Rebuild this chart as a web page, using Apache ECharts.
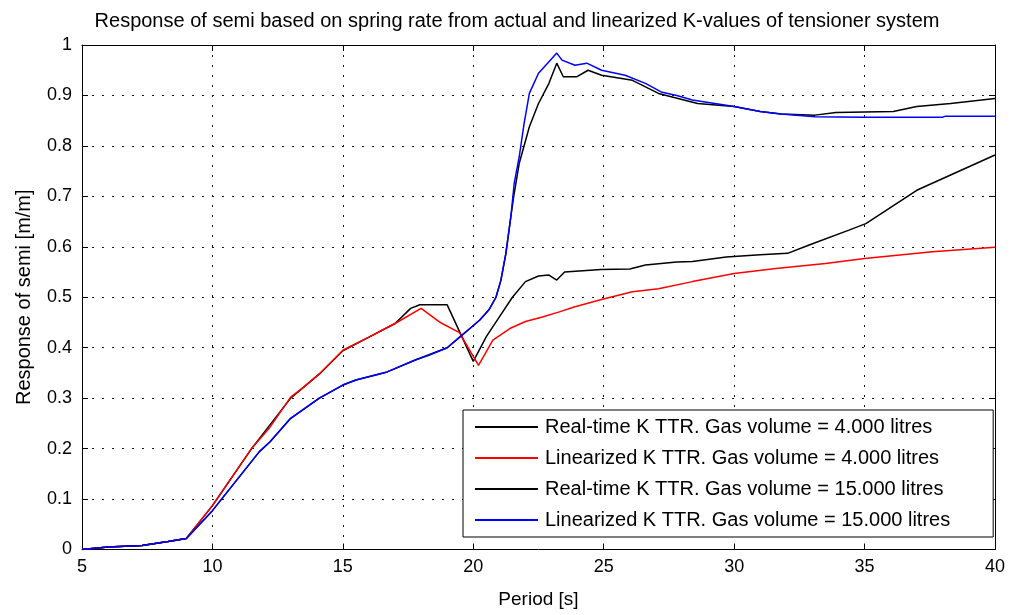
<!DOCTYPE html>
<html>
<head>
<meta charset="utf-8">
<script src="https://cdn.jsdelivr.net/npm/echarts@6/dist/echarts.min.js"></script>
<style>
html,body{margin:0;padding:0;background:#fff;}
#chart{width:1010px;height:615px;}
</style>
</head>
<body>
<div id="chart"></div>
<script>
const titleText = 'Response of semi based on spring rate from actual and linearized K-values of tensioner system';
const xAxisName = 'Period [s]';
const yAxisName = 'Response of semi [m/m]';
const seriesNames = [
  'Real-time K TTR. Gas volume = 4.000 litres',
  'Linearized K TTR. Gas volume = 4.000 litres',
  'Real-time K TTR. Gas volume = 15.000 litres',
  'Linearized K TTR. Gas volume = 15.000 litres'
];

// Real-time K, 4.000 litres
const rt4X = [5, 6, 7.3, 8.3, 9, 10, 11.5, 13, 14.1, 15, 16, 17, 17.6, 17.95, 19, 20, 20.5, 21, 21.5, 22, 22.5, 22.9, 23.2, 23.5, 24.9, 26, 26.6, 27.8, 28.4, 29.7, 31, 32.05, 32.9, 34.4, 35.05, 37, 40];
const rt4Y = [0, 0.005, 0.008, 0.016, 0.022, 0.087, 0.2, 0.3, 0.348, 0.394, 0.421, 0.448, 0.478, 0.485, 0.485, 0.373, 0.422, 0.461, 0.5, 0.531, 0.542, 0.544, 0.534, 0.55, 0.555, 0.556, 0.564, 0.57, 0.571, 0.58, 0.584, 0.587, 0.604, 0.633, 0.646, 0.712, 0.782];

// Linearized K, 4.000 litres
const lin4X = [5, 6, 7.3, 8.3, 9, 10, 11.5, 12.2, 13, 13.5, 14.1, 15, 16, 17, 18, 18.7, 19.47, 20.2, 20.75, 21.4, 22, 22.65, 23.3, 23.9, 24.95, 26.1, 27.1, 28.4, 30, 31.6, 33.5, 35, 37.6, 40];
const lin4Y = [0, 0.005, 0.008, 0.016, 0.022, 0.087, 0.2, 0.242, 0.302, 0.322, 0.348, 0.395, 0.421, 0.448, 0.478, 0.451, 0.43, 0.365, 0.415, 0.438, 0.452, 0.461, 0.471, 0.481, 0.496, 0.511, 0.517, 0.531, 0.547, 0.557, 0.567, 0.577, 0.59, 0.599];

// Real-time K, 15.000 litres
const rt15X = [5, 6, 7.3, 8.3, 9, 10, 11.8, 12.2, 13, 14.1, 15, 15.5, 16.7, 17.8, 19, 19.5, 19.87, 20.25, 20.6, 20.87, 21.06, 21.25, 21.44, 21.55, 21.76, 22.15, 22.5, 22.9, 23.2, 23.45, 23.96, 24.4, 24.92, 26.1, 27.1, 28.6, 30, 31, 31.8, 33.1, 33.9, 36.1, 37, 38.3, 40];
const rt15Y = [0, 0.005, 0.008, 0.016, 0.022, 0.077, 0.194, 0.213, 0.26, 0.3, 0.326, 0.336, 0.352, 0.376, 0.4, 0.422, 0.438, 0.455, 0.475, 0.5, 0.534, 0.587, 0.66, 0.7, 0.765, 0.838, 0.884, 0.924, 0.964, 0.937, 0.937, 0.95, 0.94, 0.93, 0.904, 0.884, 0.878, 0.868, 0.863, 0.861, 0.866, 0.868, 0.878, 0.884, 0.894];

// Linearized K, 15.000 litres
const lin15X = [5, 6, 7.3, 8.3, 9, 10, 11.8, 12.2, 13, 14.1, 15, 15.5, 16.7, 17.8, 18.3, 19, 19.5, 19.87, 20.25, 20.6, 20.87, 21.06, 21.25, 21.44, 21.57, 21.76, 21.95, 22.15, 22.5, 22.9, 23.2, 23.4, 23.9, 24.35, 24.92, 25.82, 26.6, 27.2, 27.8, 28.4, 30, 31, 31.8, 33.1, 35, 38, 38.1, 40];
const lin15Y = [0, 0.005, 0.008, 0.016, 0.022, 0.077, 0.194, 0.213, 0.26, 0.3, 0.326, 0.336, 0.352, 0.376, 0.385, 0.4, 0.422, 0.438, 0.455, 0.475, 0.5, 0.534, 0.587, 0.66, 0.726, 0.778, 0.845, 0.904, 0.944, 0.967, 0.984, 0.97, 0.96, 0.964, 0.95, 0.94, 0.924, 0.907, 0.9, 0.891, 0.878, 0.868, 0.863, 0.858, 0.857, 0.857, 0.859, 0.859];

const xTicks = [5, 10, 15, 20, 25, 30, 35, 40];
const yTicks = [0, 0.1, 0.2, 0.3, 0.4, 0.5, 0.6, 0.7, 0.8, 0.9, 1];

const colors = ['#000000', '#ff0000', '#000000', '#0000ff'];
const FONT = 'Liberation Sans';

function pairs(xs, ys) { return xs.map((x, i) => [x, ys[i]]); }
const allData = [pairs(rt4X, rt4Y), pairs(lin4X, lin4Y), pairs(rt15X, rt15Y), pairs(lin15X, lin15Y)];

const chart = echarts.init(document.getElementById('chart'), null, {renderer: 'canvas'});

const dotted = {show: true, lineStyle: {color: '#111', width: 1, type: [2, 8]}};

const option = {
  animation: false,
  backgroundColor: '#fff',
  title: {
    text: titleText,
    left: 512, top: 6, textAlign: 'center',
    textStyle: {fontFamily: FONT, fontSize: 20, fontWeight: 'normal', color: '#000'}
  },
  legend: {
    orient: 'vertical',
    left: 463, top: 410,
    padding: [7, 43, 7, 12],
    icon: 'rect',
    itemWidth: 63, itemHeight: 2, itemGap: 11,
    backgroundColor: '#fff',
    borderColor: '#000', borderWidth: 1,
    textStyle: {fontFamily: FONT, fontSize: 20, lineHeight: 20, color: '#000', padding: [0, 0, 0, 2]},
    data: seriesNames
  },
  grid: {left: 82, right: 15, top: 45, bottom: 65.5, show: false},
  xAxis: [{
    type: 'value', min: xTicks[0], max: xTicks[xTicks.length - 1], interval: 5,
    name: xAxisName, nameLocation: 'middle', nameGap: 41,
    nameTextStyle: {fontFamily: FONT, fontSize: 19, color: '#000'},
    axisLine: {show: true, onZero: false, lineStyle: {color: '#000', width: 1}},
    axisTick: {show: true, inside: true, length: 6, lineStyle: {color: '#000'}},
    axisLabel: {fontFamily: FONT, fontSize: 18, color: '#000', margin: 9},
    splitLine: dotted
  }, {
    type: 'value', position: 'top', min: xTicks[0], max: xTicks[xTicks.length - 1], interval: 5,
    axisLine: {show: true, onZero: false, lineStyle: {color: '#000', width: 1}},
    axisTick: {show: true, inside: true, length: 6, lineStyle: {color: '#000'}},
    axisLabel: {show: false}, splitLine: {show: false}
  }],
  yAxis: [{
    type: 'value', min: yTicks[0], max: yTicks[yTicks.length - 1], interval: 0.1,
    name: yAxisName, nameLocation: 'middle', nameGap: 48, nameRotate: 90,
    nameTextStyle: {fontFamily: FONT, fontSize: 20, color: '#000'},
    axisLine: {show: true, onZero: false, lineStyle: {color: '#000', width: 1}},
    axisTick: {show: true, inside: true, length: 6, lineStyle: {color: '#000'}},
    axisLabel: {fontFamily: FONT, fontSize: 18, color: '#000', margin: 10,
      formatter: v => (Math.round(v * 10) / 10).toString()},
    splitLine: dotted
  }, {
    type: 'value', position: 'right', min: yTicks[0], max: yTicks[yTicks.length - 1], interval: 0.1,
    axisLine: {show: true, onZero: false, lineStyle: {color: '#000', width: 1}},
    axisTick: {show: true, inside: true, length: 6, lineStyle: {color: '#000'}},
    axisLabel: {show: false}, splitLine: {show: false}
  }],
  series: seriesNames.map((name, i) => ({
    name: name,
    type: 'line',
    xAxisIndex: 0, yAxisIndex: 0,
    data: allData[i],
    symbol: 'none',
    smooth: false,
    color: colors[i],
    lineStyle: {color: colors[i], width: 1.5},
    z: 2 + i
  }))
};
chart.setOption(option);
</script>
</body>
</html>
